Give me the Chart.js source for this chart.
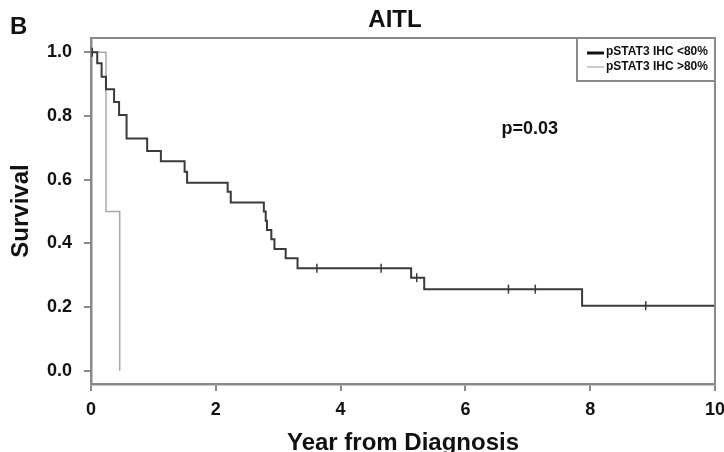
<!DOCTYPE html>
<html>
<head>
<meta charset="utf-8">
<script src="https://cdn.jsdelivr.net/npm/chart.js@4.4.1/dist/chart.umd.min.js"></script>
<style>
  html, body { margin: 0; padding: 0; background: #fff; }
</style>
</head>
<body>
<canvas id="km" width="724" height="452"></canvas>
<script>
// Kaplan-Meier, AITL, by pSTAT3 IHC
const PANEL = "B";
const TITLE = "AITL";
const X_TITLE = "Year from Diagnosis";
const Y_TITLE = "Survival";
const P_TEXT = "p=0.03";
const P_AT = [7.03, 0.76];
const X_TICKS = [0, 2, 4, 6, 8, 10];
const Y_TICKS = [0, 0.2, 0.4, 0.6, 0.8, 1.0];

const LOW_LABEL = "pSTAT3 IHC <80%";
const lowTimes = [0, 0.10, 0.17, 0.24, 0.37, 0.45, 0.57, 0.90, 1.12, 1.50, 1.54, 2.19, 2.24,
  2.77, 2.80, 2.82, 2.89, 2.94, 3.12, 3.31, 5.13, 5.34, 7.87, 10];
const lowSurv = [1.0, 0.966, 0.923, 0.884, 0.844, 0.803, 0.729, 0.690, 0.658, 0.625, 0.590, 0.562, 0.528,
  0.500, 0.471, 0.442, 0.413, 0.382, 0.353, 0.322, 0.292, 0.256, 0.204, 0.204];
const lowCensorTimes = [0.02, 3.62, 4.65, 5.22, 6.69, 7.12, 8.89];
const lowCensorSurv = [1.0, 0.322, 0.322, 0.292, 0.256, 0.256, 0.204];

const HIGH_LABEL = "pSTAT3 IHC >80%";
const highTimes = [0, 0.24, 0.46];
const highSurv = [1.0, 0.5, 0.0];

const DARK = "#3a3a3a";
const LIGHT = "#a8a8a8";
const AXIS = "#8a8a8a";
const TEXT = "#111";
const FAMILY = "'Liberation Sans', Arial, sans-serif";

function pts(xs, ys) { return xs.map(function (x, i) { return { x: x, y: ys[i] }; }); }

const decor = {
  id: "decor",
  afterDraw: function (chart) {
    const ctx = chart.ctx;
    const a = chart.chartArea;
    const xs = chart.scales.x, ys = chart.scales.y;
    ctx.save();
    // top and right frame
    ctx.strokeStyle = AXIS;
    ctx.lineWidth = 2;
    ctx.beginPath();
    ctx.moveTo(a.left, a.top); ctx.lineTo(a.right, a.top); ctx.lineTo(a.right, a.bottom);
    ctx.stroke();
    // legend box
    const lx = 577, lb = 81;
    ctx.beginPath();
    ctx.moveTo(lx, a.top); ctx.lineTo(lx, lb); ctx.lineTo(a.right, lb);
    ctx.stroke();
    ctx.fillStyle = TEXT;
    ctx.font = "bold 12px " + FAMILY;
    ctx.textBaseline = "middle";
    ctx.textAlign = "left";
    ctx.fillText(chart.data.datasets[0].label, 606, 52);
    ctx.fillText(chart.data.datasets[1].label, 606, 67);
    ctx.lineWidth = 3; ctx.strokeStyle = "#111";
    ctx.beginPath(); ctx.moveTo(587, 53); ctx.lineTo(604, 53); ctx.stroke();
    ctx.lineWidth = 1.2; ctx.strokeStyle = LIGHT;
    ctx.beginPath(); ctx.moveTo(587, 67); ctx.lineTo(604, 67); ctx.stroke();
    // panel letter, title, p value
    ctx.font = "bold 24px " + FAMILY;
    ctx.fillText(PANEL, 10, 27);
    ctx.textAlign = "center";
    ctx.fillText(TITLE, 395, 20);
    ctx.font = "bold 18px " + FAMILY;
    ctx.fillText(P_TEXT, xs.getPixelForValue(P_AT[0]), ys.getPixelForValue(P_AT[1]));
    ctx.restore();
  }
};

const tickFont = { size: 18, weight: "bold", family: FAMILY };

new Chart(document.getElementById("km"), {
  type: "line",
  data: {
    datasets: [
      { label: LOW_LABEL, data: pts(lowTimes, lowSurv), stepped: true,
        borderColor: DARK, borderWidth: 2, pointRadius: 0, fill: false },
      { label: HIGH_LABEL, data: pts(highTimes, highSurv), stepped: true,
        borderColor: LIGHT, borderWidth: 1.5, pointRadius: 0, fill: false },
      { label: "censored", data: pts(lowCensorTimes, lowCensorSurv), showLine: false,
        pointStyle: "line", rotation: 90, pointRadius: 4.5, borderWidth: 1.5,
        borderColor: DARK, backgroundColor: DARK }
    ]
  },
  options: {
    responsive: false,
    animation: false,
    devicePixelRatio: 1,
    layout: { padding: { left: 0, right: 9, top: 38, bottom: 0 } },
    plugins: { legend: { display: false }, tooltip: { enabled: false }, title: { display: false } },
    scales: {
      x: {
        type: "linear", min: 0, max: 10,
        afterBuildTicks: function (s) { s.ticks = X_TICKS.map(function (v) { return { value: v }; }); },
        afterFit: function (s) { s.height = 68; s.paddingLeft = 0; s.paddingRight = 0; },
        grid: { drawOnChartArea: false, drawTicks: true, tickLength: 7, color: AXIS, lineWidth: 2 },
        border: { display: true, color: AXIS, width: 2.5 },
        ticks: { font: tickFont, color: TEXT, padding: 8, maxRotation: 0,
          callback: function (v) { return String(v); } },
        title: { display: true, text: X_TITLE, color: TEXT,
          font: { size: 24, weight: "bold", family: FAMILY, lineHeight: 0.75 }, padding: { top: 0, bottom: 0 } }
      },
      y: {
        type: "linear", min: -0.042, max: 1.045,
        afterBuildTicks: function (s) { s.ticks = Y_TICKS.map(function (v) { return { value: v }; }); },
        afterFit: function (s) { s.width = 91; s.paddingTop = 0; s.paddingBottom = 0; },
        grid: { drawOnChartArea: false, drawTicks: true, tickLength: 7, color: AXIS, lineWidth: 2 },
        border: { display: true, color: AXIS, width: 2.5 },
        ticks: { font: tickFont, color: TEXT, padding: 12,
          callback: function (v) { return v.toFixed(1); } },
        title: { display: true, text: Y_TITLE, color: TEXT,
          font: { size: 24, weight: "bold", family: FAMILY }, padding: { top: 6.6, bottom: 0 } }
      }
    }
  },
  plugins: [decor]
});
</script>
</body>
</html>
